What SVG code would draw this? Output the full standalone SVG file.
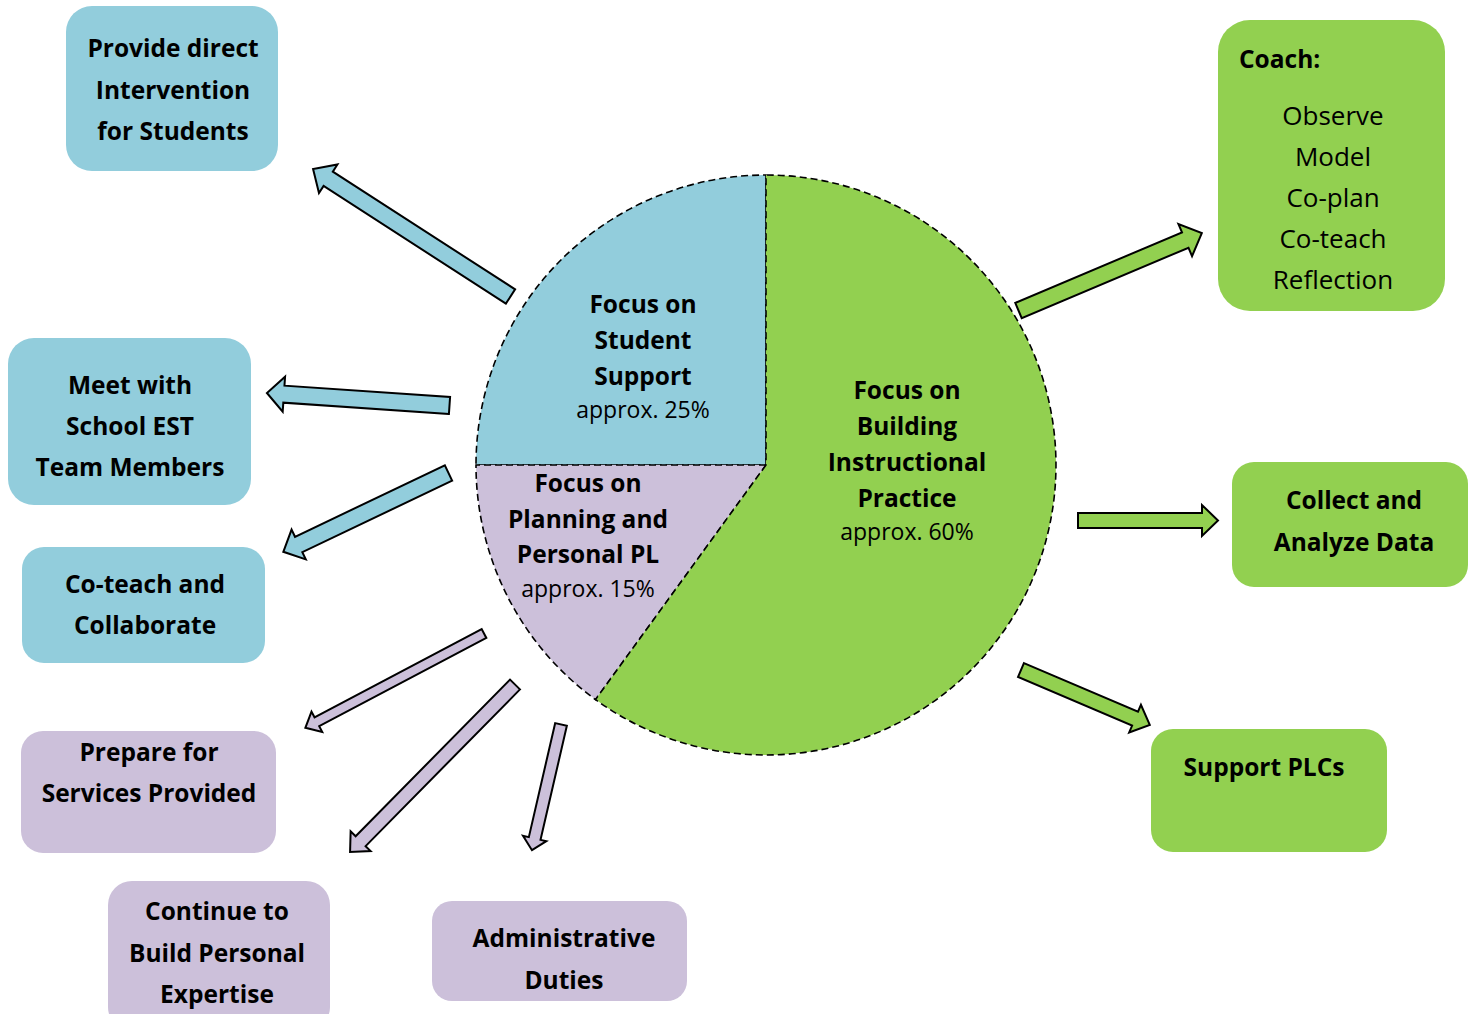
<svg xmlns="http://www.w3.org/2000/svg" width="1475" height="1014" viewBox="0 0 1475 1014">
<style>
  .blue{fill:#92CDDC}
  .green{fill:#92D050}
  .purple{fill:#CCC0DA}
  .sector{stroke:#000;stroke-width:1.6;stroke-dasharray:7 4}
  .arrow{stroke:#000;stroke-width:2;stroke-linejoin:miter}
  text{font-family:"Open Sans","Noto Sans",sans-serif;font-size:24.5px;fill:#000;text-anchor:middle}
  .b{font-weight:bold}
  .r{font-weight:normal}
  .sm{font-size:23px}
  .lg{font-size:26px}
</style>
<rect width="1475" height="1014" fill="#fff"/>

<g id="connectors">
  <polygon class="arrow blue" transform="translate(510.5,296.5) rotate(-147.15)" points="0,-8.5 217,-8.5 217,-17 235,0 217,17 217,8.5 0,8.5"/>
  <polygon class="arrow blue" transform="translate(449.5,405.5) rotate(183.92)" points="0,-8.5 166,-8.5 166,-17.5 183,0 166,17.5 166,8.5 0,8.5"/>
  <polygon class="arrow blue" transform="translate(448.5,473) rotate(154.5)" points="0,-8.5 166,-8.5 166,-16.5 183,0 166,16.5 166,8.5 0,8.5"/>
  <polygon class="arrow purple" transform="translate(484,633.5) rotate(152.17)" points="0,-5 189,-5 189,-11.5 202,0 189,11.5 189,5 0,5"/>
  <polygon class="arrow purple" transform="translate(515,684.5) rotate(134.57)" points="0,-7 220,-7 220,-14 235,0 220,14 220,7 0,7"/>
  <polygon class="arrow purple" transform="translate(561,724.5) rotate(103)" points="0,-6 117,-6 117,-12 129,0 117,12 117,6 0,6"/>
  <polygon class="arrow green" transform="translate(1018.5,310.5) rotate(-22.9)" points="0,-8.3 181,-8.3 181,-17.5 199,0 181,17.5 181,8.3 0,8.3"/>
  <polygon class="arrow green" transform="translate(1078,520.5)" points="0,-7.5 124,-7.5 124,-15.5 140,0 124,15.5 124,7.5 0,7.5"/>
  <polygon class="arrow green" transform="translate(1021,670) rotate(23.1)" points="0,-7.5 124,-7.5 124,-15 140,0 124,15 124,7.5 0,7.5"/>
</g>

<g id="pie">
  <g id="sector-student">
    <path class="sector blue" d="M766,465 L766,175 A290,290 0 0 0 476,465 Z"/>
    <text class="b" x="643" y="313">Focus on</text>
    <text class="b" x="643" y="349">Student</text>
    <text class="b" x="643" y="385">Support</text>
    <text class="r sm" x="643" y="418">approx. 25%</text>
  </g>
  <g id="sector-planning">
    <path class="sector purple" d="M766,465 L476,465 A290,290 0 0 0 595.5,699.6 Z"/>
    <text class="b" x="588" y="492">Focus on</text>
    <text class="b" x="588" y="528">Planning and</text>
    <text class="b" x="588" y="563">Personal PL</text>
    <text class="r sm" x="588" y="597">approx. 15%</text>
  </g>
  <g id="sector-instruction">
    <path class="sector green" d="M766,465 L595.5,699.6 A290,290 0 1 0 766,175 Z"/>
    <text class="b" x="907" y="399">Focus on</text>
    <text class="b" x="907" y="435">Building</text>
    <text class="b" x="907" y="471">Instructional</text>
    <text class="b" x="907" y="507">Practice</text>
    <text class="r sm" x="907" y="540">approx. 60%</text>
  </g>
</g>

<g id="node-provide">
  <rect class="blue" x="66" y="6" width="212" height="165" rx="26"/>
  <text class="b" x="173" y="57">Provide direct</text>
  <text class="b" x="173" y="99">Intervention</text>
  <text class="b" x="173" y="140">for Students</text>
</g>
<g id="node-meet">
  <rect class="blue" x="8" y="338" width="243" height="167" rx="26"/>
  <text class="b" x="130" y="394">Meet with</text>
  <text class="b" x="130" y="435">School EST</text>
  <text class="b" x="130" y="476">Team Members</text>
</g>
<g id="node-coteach">
  <rect class="blue" x="22" y="547" width="243" height="116" rx="22"/>
  <text class="b" x="145" y="593">Co-teach and</text>
  <text class="b" x="145" y="634">Collaborate</text>
</g>
<g id="node-prepare">
  <rect class="purple" x="21" y="731" width="255" height="122" rx="22"/>
  <text class="b" x="149" y="761">Prepare for</text>
  <text class="b" x="149" y="802">Services Provided</text>
</g>
<g id="node-continue">
  <rect class="purple" x="108" y="881" width="222" height="150" rx="24"/>
  <text class="b" x="217" y="920">Continue to</text>
  <text class="b" x="217" y="962">Build Personal</text>
  <text class="b" x="217" y="1003">Expertise</text>
</g>
<g id="node-admin">
  <rect class="purple" x="432" y="901" width="255" height="100" rx="20"/>
  <text class="b" x="564" y="947">Administrative</text>
  <text class="b" x="564" y="989">Duties</text>
</g>
<g id="node-coach">
  <rect class="green" x="1218" y="20" width="227" height="291" rx="32"/>
  <text class="b" x="1239" y="68" style="text-anchor:start">Coach:</text>
  <text class="r lg" x="1333" y="125">Observe</text>
  <text class="r lg" x="1333" y="166">Model</text>
  <text class="r lg" x="1333" y="207">Co-plan</text>
  <text class="r lg" x="1333" y="248">Co-teach</text>
  <text class="r lg" x="1333" y="289">Reflection</text>
</g>
<g id="node-collect">
  <rect class="green" x="1232" y="462" width="236" height="125" rx="22"/>
  <text class="b" x="1354" y="509">Collect and</text>
  <text class="b" x="1354" y="551">Analyze Data</text>
</g>
<g id="node-plcs">
  <rect class="green" x="1151" y="729" width="236" height="123" rx="22"/>
  <text class="b" x="1264" y="776">Support PLCs</text>
</g>
</svg>
